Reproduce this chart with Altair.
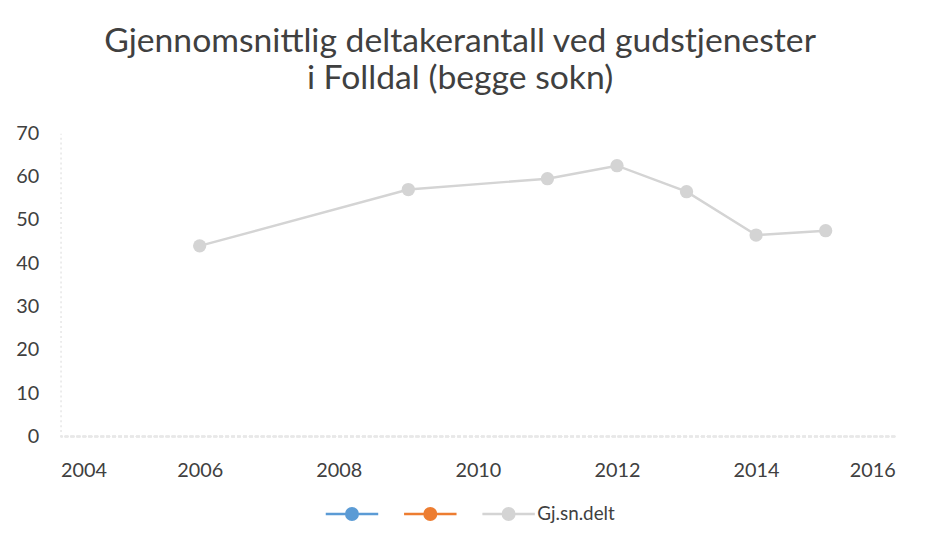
import altair as alt
import pandas as pd

# ---- data ----
years = [2006, 2009, 2011, 2012, 2013, 2014, 2015]
values = [44, 57, 59.5, 62.5, 56.5, 46.5, 47.5]
series_name = "Gj.sn.delt"

legend_domain = ["Serie1", "Serie2", "Gj.sn.delt"]
legend_colors = ["#5b9bd5", "#ed7d31", "#d4d4d4"]

x_ticks = [2004, 2006, 2008, 2010, 2012, 2014, 2016]
y_ticks = [0, 10, 20, 30, 40, 50, 60, 70]

title_lines = ["Gjennomsnittlig deltakerantall ved gudstjenester", "i Folldal (begge sokn)"]

df = pd.DataFrame({"year": years, "value": values, "series": [series_name] * len(years)})

FONT = "Lato"
TEXT = "#404040"

color = alt.Color(
    "series:N",
    scale=alt.Scale(domain=legend_domain, range=legend_colors),
    legend=alt.Legend(
        title=None,
        orient="none",
        legendX=266,
        legendY=356,
        direction="horizontal",
        symbolType="M-1,0L-0.22,0M0.22,0L1,0M0.22,0A0.22,0.22,0,1,1,-0.22,0A0.22,0.22,0,1,1,0.22,0Z",
        symbolSize=2800,
        symbolStrokeWidth=2.5,
        labelFont=FONT,
        labelFontSize=19,
        labelColor=TEXT,
        labelOffset=1,
        columnPadding=15,
        labelExpr="datum.label == 'Gj.sn.delt' ? datum.label : ''",
    ),
)

x = alt.X(
    "year:Q",
    scale=alt.Scale(domain=[2004, 2016], nice=False, zero=False),
    axis=alt.Axis(
        values=x_ticks, format="d", title=None, grid=False, ticks=False,
        domain=False, labelFont=FONT, labelFontSize=20, labelColor=TEXT,
        labelPadding=24,
    ),
)
y = alt.Y(
    "value:Q",
    scale=alt.Scale(domain=[0, 70], nice=False),
    axis=alt.Axis(
        values=y_ticks, title=None, grid=False, ticks=False,
        domainColor="#e6e6e6", domainDash=[2, 3], domainWidth=1.5,
        labelFont=FONT, labelFontSize=20, labelColor=TEXT, labelPadding=22,
    ),
)

base = alt.Chart(df)
line = base.mark_line(strokeWidth=2.5).encode(x=x, y=y, color=color)
points = base.mark_point(filled=True, size=180, opacity=1).encode(x=x, y=y, color=color)
baseline = base.mark_rule(color="#e8e8e8", strokeDash=[4, 2], strokeWidth=1.5).encode(
    y=alt.datum(0)
)

chart = (
    alt.layer(baseline, line, points)
    .properties(
        width=842,
        height=306,
        autosize=alt.AutoSizeParams(type="none"),
        padding={"left": 53, "top": 124, "right": 25, "bottom": 95},
        view=alt.ViewBackground(stroke="white", strokeOpacity=0, strokeWidth=0),
        title=alt.TitleParams(
            text=title_lines,
            font=FONT,
            fontSize=34,
            fontWeight="normal",
            color=TEXT,
            lineHeight=37,
            anchor="middle",
            dx=-18,
            offset=28,
        ),
    )
    .configure_view(stroke="white", strokeOpacity=0, strokeWidth=0)
    .configure(background="white")
)

chart.save("out.html", embed_options={"renderer": "svg", "actions": False})
